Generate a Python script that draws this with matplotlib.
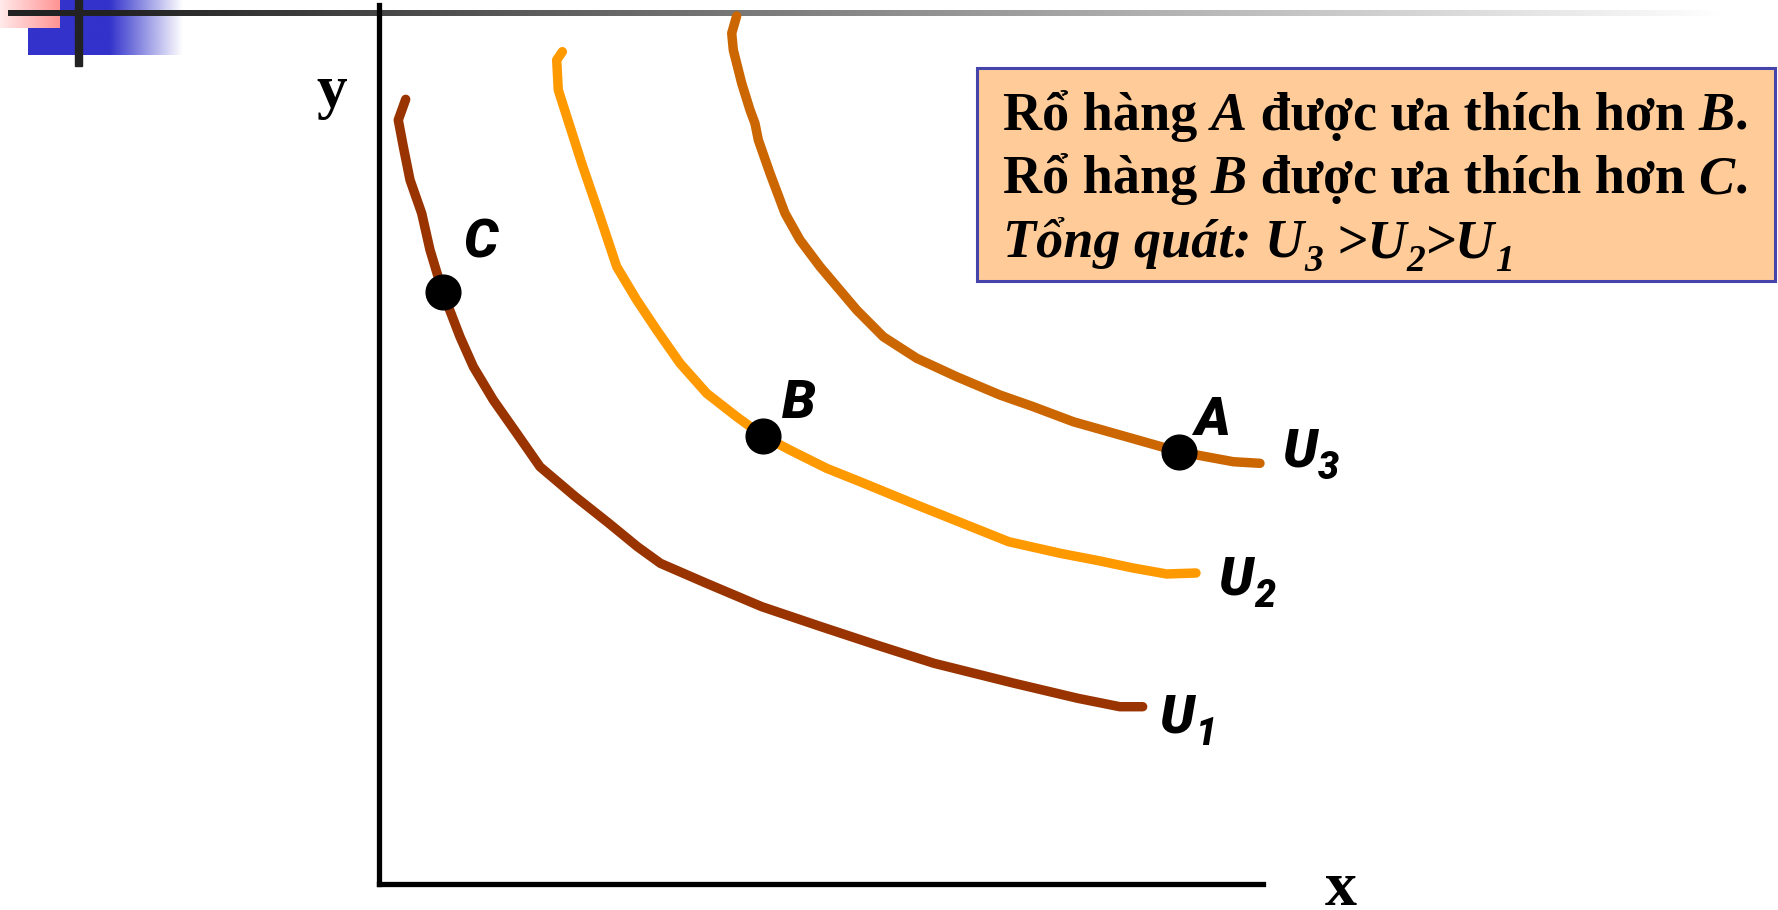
import matplotlib
matplotlib.use("Agg")
import matplotlib.pyplot as plt
import numpy as np
from matplotlib.font_manager import FontProperties
from matplotlib.patches import Rectangle

# ---------------- data (x and y on a 0-10 scale) ----------------
u1_x = [0.302, 0.218, 0.275, 0.351, 0.483, 0.577, 0.721, 0.916, 1.067, 1.293, 1.558, 1.821,
        2.221, 2.600, 2.924, 3.184, 3.704, 4.330, 5.002, 5.629, 6.278, 7.188, 7.903, 8.380, 8.639]
u1_y = [8.927, 8.692, 8.388, 8.009, 7.630, 7.213, 6.735, 6.226, 5.885, 5.506, 5.127, 4.747,
        4.406, 4.104, 3.837, 3.648, 3.421, 3.155, 2.927, 2.719, 2.511, 2.283, 2.113, 2.017, 2.017]

u2_x = [2.074, 2.010, 2.028, 2.161, 2.293, 2.500, 2.689, 2.915, 3.141, 3.405, 3.707, 4.046,
        4.341, 4.649, 5.064, 5.441, 6.084, 7.123, 7.707, 8.156, 8.529, 8.910, 9.242]
u2_y = [9.469, 9.374, 9.033, 8.615, 8.199, 7.592, 7.023, 6.644, 6.303, 5.924, 5.582, 5.316,
        5.100, 4.937, 4.729, 4.577, 4.312, 3.894, 3.762, 3.675, 3.595, 3.527, 3.538]

u3_x = [4.046, 3.990, 4.008, 4.103, 4.197, 4.253, 4.291, 4.423, 4.593, 4.762, 4.989, 5.404,
        5.705, 6.083, 6.535, 7.025, 7.402, 7.854, 8.345, 9.050, 9.664, 9.966]
u3_y = [9.875, 9.678, 9.488, 9.109, 8.805, 8.654, 8.464, 8.085, 7.630, 7.327, 7.023, 6.530,
        6.226, 5.981, 5.771, 5.563, 5.430, 5.259, 5.119, 4.918, 4.804, 4.786]

curve_names = ["1", "2", "3"]
bundle_names = ["C", "B", "A"]
bundle_x = [0.721, 4.341, 9.050]
bundle_y = [6.735, 5.100, 4.918]

x_label = "x"
y_label = "y"
box_lines = [
    [("Rổ hàng ", "normal"), ("A", "italic"), (" được ưa thích hơn ", "normal"), ("B", "italic"), (".", "normal")],
    [("Rổ hàng ", "normal"), ("B", "italic"), (" được ưa thích hơn ", "normal"), ("C", "italic"), (".", "normal")],
]
line3_main = ["Tổng quát: U", " >U", ">U"]
line3_subs = ["3", "2", "1"]

# ---------------- styling ----------------
W, H = 1778, 910
serif = "Liberation Serif"


def label_fp(size):
    return FontProperties(family=["Roboto", "Liberation Sans"], weight=900, style="italic", size=size)


fig = plt.figure(figsize=(W / 100, H / 100), dpi=100)
fig.patch.set_facecolor("white")

# decoration layer in pixel coordinates
deco = fig.add_axes([0, 0, 1, 1], zorder=0)
deco.set_xlim(0, W)
deco.set_ylim(H, 0)
deco.axis("off")


def hgrad(x0, x1, y0, y1, c0, c1, solid_until=None, alpha0=1.0, alpha1=1.0, z=1):
    n = 256
    t = np.linspace(0, 1, n)
    if solid_until is not None:
        f = (solid_until - x0) / (x1 - x0)
        t = np.clip((t - f) / (1 - f), 0, 1)
    c0 = np.array(matplotlib.colors.to_rgb(c0))
    c1 = np.array(matplotlib.colors.to_rgb(c1))
    rgb = c0[None, :] * (1 - t[:, None]) + c1[None, :] * t[:, None]
    a = alpha0 * (1 - t) + alpha1 * t
    img = np.concatenate([rgb, a[:, None]], axis=1)[None, :, :]
    deco.imshow(img, extent=(x0, x1, y1, y0), aspect="auto", interpolation="bilinear", zorder=z)


hgrad(28, 183, 0, 55, "#3333CC", "#3333CC", solid_until=110, alpha0=1.0, alpha1=0.0, z=1)
hgrad(0, 60, 0, 28, "#FFEAEA", "#FF9494", z=2)
hgrad(8, 1725, 10.5, 16.5, "#222222", "#FFFFFF", solid_until=110, z=3)
deco.add_patch(Rectangle((75, 0), 7, 66, color="#222222", zorder=4))
deco.set_xlim(0, W)
deco.set_ylim(H, 0)

renderer = fig.canvas.get_renderer()


def width_of(s, **kw):
    t1 = deco.text(0, 0, "X" + s + "X", **kw)
    w1 = t1.get_window_extent(renderer).width
    t1.remove()
    t2 = deco.text(0, 0, "XX", **kw)
    w2 = t2.get_window_extent(renderer).width
    t2.remove()
    return w1 - w2


# main chart axes
ax = fig.add_axes([379 / W, (H - 884) / H, (1263 - 379) / W, (884 - 5) / H], zorder=2)
ax.patch.set_alpha(0)
ax.set_xlim(0, 10)
ax.set_ylim(0, 10)
for s in ["top", "right"]:
    ax.spines[s].set_visible(False)
for s in ["left", "bottom"]:
    ax.spines[s].set_linewidth(3.8)
    ax.spines[s].set_color("black")
ax.set_xticks([])
ax.set_yticks([])

colors = ["#993300", "#FF9900", "#CC6600"]
curves = [(u1_x, u1_y), (u2_x, u2_y), (u3_x, u3_y)]
for (cx, cy), col in zip(curves, colors):
    ax.plot(cx, cy, color=col, lw=6.8, solid_capstyle="round", solid_joinstyle="round",
            clip_on=False, zorder=3)

ax.plot(bundle_x, bundle_y, "o", color="black", ms=25, zorder=5, clip_on=False)

big = label_fp(39)
small = label_fp(27)
common = dict(textcoords="offset points", annotation_clip=False, zorder=6)
bundle_offsets = [(27.6, 24.5), (26.1, 12.7), (23.8, 12.0)]
for name, bx, by, off in zip(bundle_names, bundle_x, bundle_y, bundle_offsets):
    ax.annotate(name, (bx, by), xytext=off, ha="center", va="baseline", fontproperties=big, **common)

u_w_pt = width_of("U", fontproperties=big) * 72 / 100
u_offsets = [(12.2, -18.7), (15.8, -15.8), (15.8, -2.4)]
for (cx, cy), name, uoff in zip(curves, curve_names, u_offsets):
    ax.annotate("U", (cx[-1], cy[-1]), xytext=uoff, ha="left", va="baseline", fontproperties=big, **common)
    soff = (uoff[0] + u_w_pt + 1.0, uoff[1] - 8.6)
    ax.annotate(name, (cx[-1], cy[-1]), xytext=soff, ha="left", va="baseline", fontproperties=small, **common)

# axis letters
deco.text(332, 107, y_label, ha="center", va="baseline", fontsize=44, fontweight="bold",
          family=serif, zorder=5)
deco.text(1341, 905, x_label, ha="center", va="baseline", fontsize=46, fontweight="bold",
          family=serif, zorder=5)

# info box
deco.add_patch(Rectangle((977, 68), 798, 213, facecolor="#FFCC99", edgecolor="#4444AA",
                         lw=2.2, zorder=5))

box_fs = 39
sub_fs = 27
x0 = 1003
baselines = [130, 193, 257]
for line, yb in zip(box_lines, baselines[:2]):
    xx = x0
    for s, st in line:
        kw = dict(fontsize=box_fs, fontweight="bold", style=st, family=serif)
        deco.text(xx, yb, s, ha="left", va="baseline", zorder=6, **kw)
        xx += width_of(s, **kw)

xx = x0
yb = baselines[2]
for main, sub in zip(line3_main, line3_subs):
    kw = dict(fontsize=box_fs, fontweight="bold", style="italic", family=serif)
    deco.text(xx, yb, main, ha="left", va="baseline", zorder=6, **kw)
    xx += width_of(main, **kw)
    kws = dict(fontsize=sub_fs, fontweight="bold", style="italic", family=serif)
    deco.text(xx, yb + 14, sub, ha="left", va="baseline", zorder=6, **kws)
    xx += width_of(sub, **kws)

fig.savefig("out.png", dpi=100, facecolor="white")
